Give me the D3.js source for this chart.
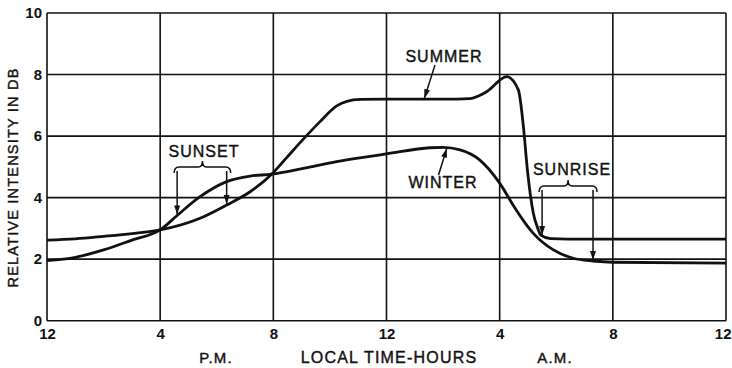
<!DOCTYPE html>
<html>
<head>
<meta charset="utf-8">
<script src="https://cdn.jsdelivr.net/npm/d3@7"></script>
<style>
  html, body { margin: 0; padding: 0; background: #fff; }
  svg { display: block; }
  text { font-family: "Liberation Sans", Arial, sans-serif; fill: #111; }
</style>
</head>
<body>
<div id="chart"></div>
<script>
// Received signal intensity over a day, summer vs. winter
const hourTicks = [0, 4, 8, 12, 16, 20, 24];
const hourLabels = ["12", "4", "8", "12", "4", "8", "12"];
const dbTicks = [0, 2, 4, 6, 8, 10];

const summerHours = [0, 1, 2, 3, 4, 5.41, 6.35, 7.18, 7.94, 8.47, 9.06, 9.65, 10.24, 10.6, 11.06, 12, 14, 14.95, 15.54, 16.25, 16.66, 16.84, 16.98, 17.19, 17.37, 17.45, 17.8, 19, 24];
const summerDb    = [2.62, 2.66, 2.74, 2.83, 2.95, 3.33, 3.76, 4.19, 4.76, 5.3, 5.9, 6.47, 6.98, 7.13, 7.19, 7.2, 7.2, 7.22, 7.44, 7.93, 7.5, 6.3, 4.9, 3.49, 2.95, 2.78, 2.67, 2.65, 2.65];

const winterHours = [0, 1, 2, 3, 4, 4.6, 5.41, 6.35, 7.18, 7.94, 9.06, 10.24, 12, 13.54, 14.0, 14.6, 15.3, 16.0, 16.5, 16.96, 17.19, 17.9, 18.6, 19.31, 20, 24];
const winterDb    = [1.95, 2.06, 2.3, 2.62, 2.95, 3.42, 4.03, 4.52, 4.7, 4.76, 4.95, 5.17, 5.42, 5.62, 5.63, 5.55, 5.22, 4.47, 3.72, 3.1, 2.84, 2.3, 2.03, 1.94, 1.9, 1.87];

// Sunset / sunrise markers: hour and the curve each arrow points at
const sunsetHours = [4.6, 6.35];
const sunsetCurves = ["winter", "summer"];
const sunriseHours = [17.5, 19.3];
const sunriseCurves = ["summer", "winter"];

const W = 732, H = 368;
const svg = d3.select("#chart").append("svg").attr("width", W).attr("height", H);

const x = d3.scaleLinear().domain([0, 24]).range([47, 726]);
const y = d3.scaleLinear().domain([0, 10]).range([320.7, 13]);

// grid
const grid = svg.append("g").attr("stroke", "#111").attr("stroke-width", 1.6);
grid.selectAll("line.v").data(hourTicks).join("line")
  .attr("x1", d => x(d)).attr("x2", d => x(d))
  .attr("y1", y(10)).attr("y2", y(0));
grid.selectAll("line.h").data(dbTicks).join("line")
  .attr("x1", x(0)).attr("x2", x(24))
  .attr("y1", d => y(d)).attr("y2", d => y(d));

// axes labels
const yAxis = d3.axisLeft(y).tickValues(dbTicks).tickSize(0).tickPadding(5).tickFormat(d3.format("d"));
svg.append("g").attr("transform", `translate(${x(0)},0)`).call(yAxis)
  .call(g => g.select(".domain").remove())
  .selectAll("text").attr("font-size", 15).attr("font-weight", "bold")
  .attr("font-family", "'Liberation Sans', Arial, sans-serif").attr("fill", "#111");

const xAxis = d3.axisBottom(x).tickValues(hourTicks).tickSize(0).tickPadding(8)
  .tickFormat((d, i) => hourLabels[i]);
svg.append("g").attr("transform", `translate(0,${y(0)})`).call(xAxis)
  .call(g => g.select(".domain").remove())
  .selectAll("text").attr("font-size", 15).attr("font-weight", "bold")
  .attr("font-family", "'Liberation Sans', Arial, sans-serif").attr("fill", "#111")
  .filter(d => d === 24).attr("text-anchor", "end").attr("dx", 5);

// curves
const line = d3.line().x(d => x(d[0])).y(d => y(d[1])).curve(d3.curveMonotoneX);
const summer = summerHours.map((h, i) => [h, summerDb[i]]);
const winter = winterHours.map((h, i) => [h, winterDb[i]]);
const paths = {};
[["summer", summer], ["winter", winter]].forEach(([k, data]) => {
  paths[k] = svg.append("path").datum(data)
    .attr("d", line).attr("fill", "none").attr("stroke", "#111")
    .attr("stroke-width", 2.8).attr("stroke-linejoin", "round").node();
});

// y position of a drawn curve at pixel column px
function curveYAt(node, px) {
  let lo = 0, hi = node.getTotalLength();
  for (let i = 0; i < 40; i++) {
    const mid = (lo + hi) / 2;
    if (node.getPointAtLength(mid).x < px) lo = mid; else hi = mid;
  }
  return node.getPointAtLength((lo + hi) / 2).y;
}

const ann = svg.append("g");
function arrowHead(px, py, angle) {
  // tip at (px,py), pointing along angle (radians)
  const len = 9, half = 3;
  const bx = px - len * Math.cos(angle), by = py - len * Math.sin(angle);
  const nx = -Math.sin(angle) * half, ny = Math.cos(angle) * half;
  ann.append("path")
    .attr("d", `M${px},${py}L${bx + nx},${by + ny}L${bx - nx},${by - ny}Z`)
    .attr("fill", "#111");
}
function arrow(x1, y1, x2, y2) {
  ann.append("line").attr("x1", x1).attr("y1", y1).attr("x2", x2).attr("y2", y2)
    .attr("stroke", "#111").attr("stroke-width", 1.5);
  arrowHead(x2, y2, Math.atan2(y2 - y1, x2 - x1));
}
function brace(xl, xr, ytop, yend) {
  const xm = (xl + xr) / 2, ypk = ytop - 6;
  ann.append("path")
    .attr("d", `M${xl},${yend} Q${xl},${ytop} ${xl + 5},${ytop} L${xm - 4},${ytop} Q${xm},${ytop} ${xm},${ypk}` +
               ` Q${xm},${ytop} ${xm + 4},${ytop} L${xr - 5},${ytop} Q${xr},${ytop} ${xr},${yend}`)
    .attr("fill", "none").attr("stroke", "#111").attr("stroke-width", 1.5);
}
function markerGroup(hours, curves, label, lx, ly, ytop) {
  const xs = hours.map(h => x(h));
  brace(xs[0] - 3, xs[1] + 4, ytop, ytop + 6);
  xs.forEach((px, i) => {
    const cy = curveYAt(paths[curves[i]], px);
    arrow(px, ytop + 4, px, cy - 1);
  });
  ann.append("text").attr("x", lx).attr("y", ly).attr("text-anchor", "middle")
    .attr("font-size", 16).attr("letter-spacing", 1)
    .attr("stroke", "#111").attr("stroke-width", 0.4).text(label);
}
markerGroup(sunsetHours, sunsetCurves, "SUNSET", 204, 156.5, 167);
markerGroup(sunriseHours, sunriseCurves, "SUNRISE", 572, 175, 186);

// curve names with pointer arrows
function nameLabel(txt, lx, ly, x1, y1, hour, key) {
  ann.append("text").attr("x", lx).attr("y", ly).attr("text-anchor", "middle")
    .attr("font-size", 16).attr("letter-spacing", 1)
    .attr("stroke", "#111").attr("stroke-width", 0.4).text(txt);
  const px = x(hour);
  const cy = curveYAt(paths[key], px);
  arrow(x1, y1, px, cy + (y1 < cy ? -1 : 1));
}
nameLabel("SUMMER", 444, 61.7, 435, 65, 13.34, "summer");
nameLabel("WINTER", 443, 188.3, 438.5, 175, 14.13, "winter");

// axis titles
const title = (t, tx, ty, size, rot) => svg.append("text")
  .attr("transform", `translate(${tx},${ty})` + (rot ? " rotate(-90)" : ""))
  .attr("text-anchor", "middle").attr("font-size", size).attr("letter-spacing", 1.2)
  .attr("stroke", "#111").attr("stroke-width", 0.4).text(t);
title("RELATIVE INTENSITY IN DB", 17.5, 177.5, 14.5, true);
title("P.M.", 216, 363, 15, false);
title("LOCAL TIME-HOURS", 389, 363, 16, false);
title("A.M.", 555, 363, 15, false);
</script>
</body>
</html>
